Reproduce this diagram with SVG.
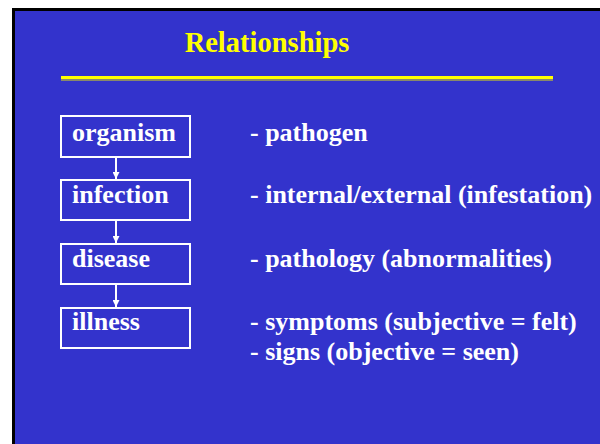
<svg xmlns="http://www.w3.org/2000/svg" width="600" height="444" viewBox="0 0 600 444">
<style>
.t{font-family:"Liberation Serif","Times New Roman",serif;font-weight:bold;fill:#ffffff;font-size:26px}
.box{fill:none;stroke:#ffffff;stroke-width:2}
.conn{stroke:#ffffff;stroke-width:2;fill:none}
</style>
<defs>
<marker id="ah" viewBox="0 0 8 8" refX="8" refY="4" markerWidth="3.5" markerHeight="3.5" markerUnits="strokeWidth" orient="auto">
<path d="M0,0 L8,4 L0,8 Z" fill="#ffffff"/>
</marker>
</defs>
<rect x="0" y="0" width="600" height="444" fill="#ffffff"/>
<rect x="12" y="8" width="600" height="450" fill="#000000"/>
<rect x="15" y="11" width="600" height="450" fill="#3333cc"/>
<text x="267" y="52" text-anchor="middle" style="font-family:'Liberation Serif','Times New Roman',serif;font-weight:bold;font-size:28.5px;fill:#ffff00">Relationships</text>
<rect x="61" y="79" width="492" height="2" fill="#8a8a6a"/>
<rect x="61" y="76" width="492" height="3" fill="#ffff00"/>
<g id="organism"><rect class="box" x="61" y="116" width="129" height="41"/><text class="t" x="72" y="141">organism</text></g>
<g id="infection"><rect class="box" x="61" y="180" width="129" height="40"/><text class="t" x="72" y="203">infection</text></g>
<g id="disease"><rect class="box" x="61" y="244" width="129" height="40"/><text class="t" x="72" y="267">disease</text></g>
<g id="illness"><rect class="box" x="61" y="308" width="129" height="40"/><text class="t" x="72" y="330">illness</text></g>
<g id="connectors">
<line class="conn" x1="116" y1="157" x2="116" y2="179" marker-end="url(#ah)"/>
<line class="conn" x1="116" y1="220" x2="116" y2="243" marker-end="url(#ah)"/>
<line class="conn" x1="116" y1="284" x2="116" y2="307" marker-end="url(#ah)"/>
</g>
<g id="descriptions">
<text class="t" x="250" y="141">- pathogen</text>
<text class="t" x="250" y="203">- internal/external (infestation)</text>
<text class="t" x="250" y="267">- pathology (abnormalities)</text>
<text class="t" x="250" y="330">- symptoms (subjective = felt)</text>
<text class="t" x="250" y="360">- signs (objective = seen)</text>
</g>
</svg>
